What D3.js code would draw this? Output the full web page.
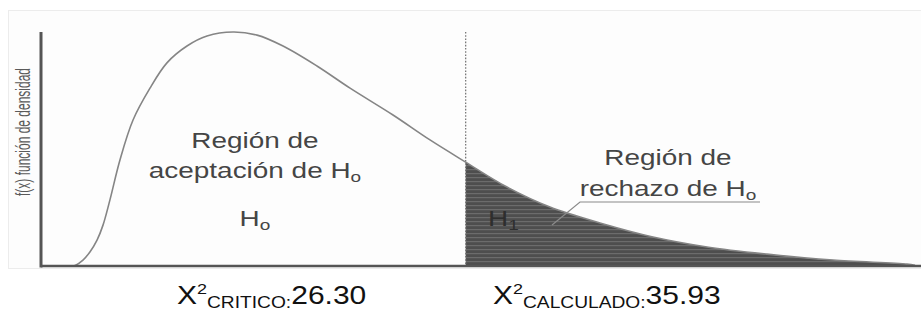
<!DOCTYPE html>
<html>
<head>
<meta charset="utf-8">
<script src="https://cdn.jsdelivr.net/npm/d3@7"></script>
<style>
  html, body { margin: 0; padding: 0; background: #fff; }
  svg { display: block; }
  text { font-family: "Liberation Sans", Arial, sans-serif; }
</style>
</head>
<body>
<svg id="chart" width="921" height="311"></svg>
<script>
// chi-square values along the axis and the density
const chiValues = [1.80, 2.11, 2.60, 3.03, 3.47, 3.84, 4.27, 4.89, 5.70, 6.75, 7.80, 9.04,
  10.28, 11.89, 13.38, 14.99, 17.09, 19.14, 21.80, 24.09, 26.30, 28.86, 31.52, 34.62,
  37.90, 41.25, 44.96, 49.05, 53.63, 54.13];
const densities = [0, 0.0002, 0.0019, 0.0045, 0.0083, 0.0131, 0.0212, 0.0340, 0.0468, 0.0570,
  0.0651, 0.0705, 0.0737, 0.0750, 0.0740, 0.0705, 0.0641, 0.0570, 0.0484, 0.0404, 0.0333,
  0.0253, 0.0189, 0.0138, 0.0093, 0.0061, 0.0038, 0.0019, 0.0006, 0.0002];

const criticalValue = 26.30;
const calculatedValue = 35.93;
const yAxisTitle = "f(x) función de densidad";
const acceptLines = ["Región de", "aceptación de H"];
const rejectLines = ["Región de", "rechazo de H"];

const svg = d3.select('#chart');
const stretch = 1.27; // the original picture is widened

const x = d3.scaleLinear().domain([0, 54.5]).range([41, 921]);
const y = d3.scaleLinear().domain([0, 0.075]).range([266, 32]);

const pts = chiValues.map((v, i) => ({ v: v, d: densities[i] }));

// hatch texture for the rejection region
const defs = svg.append('defs');
const pat = defs.append('pattern')
  .attr('id', 'hatch').attr('patternUnits', 'userSpaceOnUse')
  .attr('width', 8).attr('height', 4);
pat.append('rect').attr('width', 8).attr('height', 4).attr('fill', '#4e4e4e');
pat.append('rect').attr('y', 1).attr('width', 8).attr('height', 1.2).attr('fill', '#6c6c6c');

// faint frame behind the plot
svg.append('rect')
  .attr('x', 8.5).attr('y', 10.5).attr('width', 920).attr('height', 258)
  .attr('fill', '#fdfdfd').attr('stroke', '#ececec');

// rejection area
const area = d3.area()
  .x(d => x(d.v)).y0(y(0)).y1(d => y(d.d))
  .curve(d3.curveCatmullRom);
svg.append('path')
  .datum(pts.filter(d => d.v >= criticalValue))
  .attr('d', area)
  .attr('fill', 'url(#hatch)');

// dotted critical line
svg.append('line')
  .attr('x1', x(criticalValue)).attr('x2', x(criticalValue))
  .attr('y1', y(0.075)).attr('y2', y(0))
  .attr('stroke', '#7a7a7a').attr('stroke-width', 1.3)
  .attr('stroke-dasharray', '1.6,1.6');

// density curve
const line = d3.line().x(d => x(d.v)).y(d => y(d.d)).curve(d3.curveCatmullRom);
svg.append('path')
  .datum(pts)
  .attr('d', line)
  .attr('fill', 'none')
  .attr('stroke', '#858585')
  .attr('stroke-width', 1.6);

// axes, drawn as plain heavy lines
svg.append('line')
  .attr('x1', x(0)).attr('x2', x(0)).attr('y1', y(0.075)).attr('y2', y(0) + 1.5)
  .attr('stroke', '#555').attr('stroke-width', 3);
svg.append('line')
  .attr('x1', x(0)).attr('x2', 921).attr('y1', y(0)).attr('y2', y(0))
  .attr('stroke', '#555').attr('stroke-width', 2.6);

// y axis title
svg.append('text')
  .attr('transform', 'translate(30,132) scale(1.75,1) rotate(-90)')
  .attr('text-anchor', 'middle')
  .attr('font-size', 12).attr('fill', '#5a5a5a')
  .text(yAxisTitle);

function stretchedText(cx, cy, size, color, anchor) {
  return svg.append('text')
    .attr('transform', `translate(${cx},${cy}) scale(${stretch},1)`)
    .attr('text-anchor', anchor || 'middle')
    .attr('font-size', size).attr('fill', color);
}

function withSub(t, main, sub, subSize) {
  t.append('tspan').text(main);
  t.append('tspan').attr('font-size', subSize).attr('dy', 4).text(sub);
}

// acceptance region text
stretchedText(255, 148, 22, '#454545').text(acceptLines[0]);
withSub(stretchedText(255, 178, 22, '#454545'), acceptLines[1], 'o', 15);
withSub(stretchedText(255, 226, 22, '#454545'), 'H', 'o', 15);

// rejection region text
stretchedText(668, 165, 22, '#454545').text(rejectLines[0]);
withSub(stretchedText(668, 196, 22, '#454545'), rejectLines[1], 'o', 15);
withSub(stretchedText(488, 226, 22, '#2e2e2e', 'start'), 'H', '1', 15);

// leader to the rejection area
svg.append('path')
  .attr('d', d3.line()([[552, 225], [580, 202], [760, 202]]))
  .attr('fill', 'none').attr('stroke', '#8a8a8a').attr('stroke-width', 1.2);

// bottom labels
function chiLabel(left, sub, value) {
  const t = svg.append('text')
    .attr('transform', `translate(${left},304) scale(1.2,1)`)
    .attr('font-size', 25).attr('fill', '#111');
  t.append('tspan').text('X');
  t.append('tspan').attr('font-size', 15).attr('dy', -10).text('2');
  t.append('tspan').attr('font-size', 16).attr('dy', 14).text(sub);
  t.append('tspan').attr('dy', -4).text(value.toFixed(2));
}
chiLabel(177, 'CRITICO:', criticalValue);
chiLabel(493, 'CALCULADO:', calculatedValue);
</script>
</body>
</html>
